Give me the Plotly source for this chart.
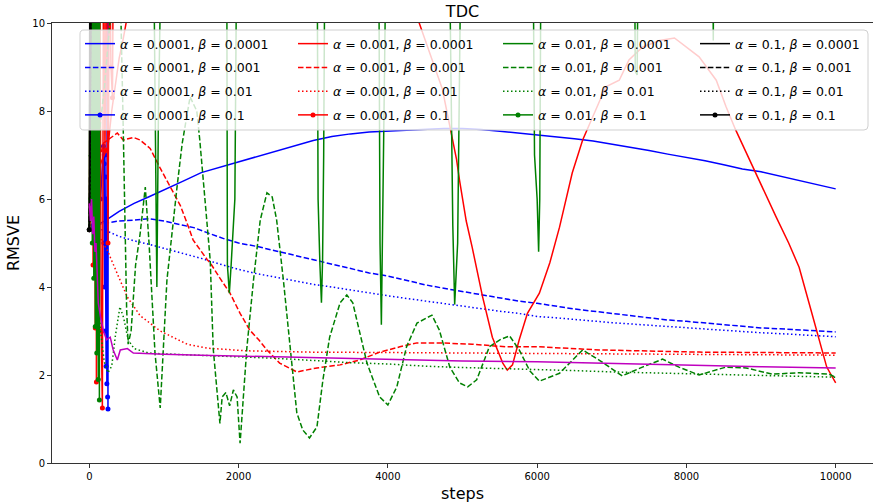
import plotly.graph_objects as go

# ---------------- data ----------------
alpha_labels = ["0.0001", "0.001", "0.01", "0.1"]
beta_labels = ["0.0001", "0.001", "0.01", "0.1"]

# alpha = 0.0001 (blue)
blue_b4_x = [0, 100, 200, 250, 400, 600, 800, 1000, 1250, 1500, 1750, 2000, 2250, 2500, 2750, 3000,
             3250, 3500, 3750, 4000, 4250, 4500, 4750, 5000, 5250, 5500, 5750, 6000, 6250, 6500,
             6750, 7000, 7250, 7500, 7750, 8000, 8250, 8500, 8750, 9000, 9250, 9500, 9750, 10000]
blue_b4_y = [5.3, 5.4, 5.5, 5.55, 5.72, 5.9, 6.05, 6.2, 6.4, 6.6, 6.72, 6.84, 6.97, 7.08, 7.2, 7.33,
             7.42, 7.48, 7.52, 7.54, 7.56, 7.58, 7.6, 7.6, 7.58, 7.54, 7.5, 7.45, 7.42, 7.37,
             7.32, 7.25, 7.18, 7.1, 7.02, 6.95, 6.87, 6.78, 6.68, 6.62, 6.52, 6.42, 6.33, 6.23]
blue_b3_x = [0, 100, 200, 400, 600, 800, 1000, 1200, 1400, 1600, 1800, 2000, 2250, 2500, 2750, 3000,
             3250, 3500, 3750, 4000, 4250, 4500, 4750, 5000, 5250, 5500, 5750, 6000, 6250, 6500,
             6750, 7000, 7250, 7500, 7750, 8000, 8250, 8500, 8750, 9000, 9250, 9500, 9750, 10000]
blue_b3_y = [5.3, 5.4, 5.45, 5.5, 5.52, 5.55, 5.5, 5.42, 5.35, 5.22, 5.1, 5.0, 4.92, 4.82, 4.72, 4.62,
             4.52, 4.42, 4.32, 4.25, 4.15, 4.05, 3.97, 3.9, 3.82, 3.75, 3.68, 3.63, 3.56, 3.5,
             3.45, 3.4, 3.35, 3.3, 3.25, 3.22, 3.18, 3.15, 3.1, 3.07, 3.05, 3.03, 3.0, 2.98]
blue_b2_x = [0, 100, 200, 400, 600, 800, 1000, 1250, 1500, 1750, 2000, 2250, 2500, 2750, 3000,
             3250, 3500, 3750, 4000, 4250, 4500, 4750, 5000, 5250, 5500, 5750, 6000, 6250, 6500,
             6750, 7000, 7250, 7500, 7750, 8000, 8250, 8500, 8750, 9000, 9250, 9500, 9750, 10000]
blue_b2_y = [5.3, 5.3, 5.3, 5.15, 5.05, 4.97, 4.88, 4.78, 4.65, 4.52, 4.4, 4.3, 4.22, 4.14, 4.06,
             4.0, 3.93, 3.86, 3.8, 3.74, 3.68, 3.62, 3.56, 3.5, 3.45, 3.4, 3.33, 3.3, 3.26,
             3.22, 3.19, 3.16, 3.13, 3.11, 3.08, 3.05, 3.02, 2.99, 2.96, 2.94, 2.92, 2.89, 2.87]
blue_b1_x = [0, 50, 100, 150, 190, 195, 200, 205, 210, 215, 220, 225, 230, 235, 240, 245, 250, 255]
blue_b1_y = [5.3, 5.4, 5.6, 6.0, 7.2, 5.0, 6.8, 4.0, 7.0, 3.0, 6.5, 2.2, 6.0, 1.8, 12.0, 1.5, 1.23, 14.0]

# alpha = 0.001 (red)
red_b4_x = [0, 50, 100, 150, 200, 250, 300, 350, 400, 450, 520, 600, 1000, 2000, 3000, 4000, 4300,
            4420, 4730, 4920, 4960, 5050, 5130, 5270, 5400, 5540, 5600, 5670, 5760, 5870, 6030,
            6170, 6300, 6470, 6610, 6740, 6920, 7100, 7230, 7410, 7640, 7840, 8000, 8170, 8400,
            8530, 8660, 8800, 8930, 9070, 9200, 9370, 9510, 9680, 9810, 9880, 10000]
red_b4_y = [5.3, 6.0, 6.5, 6.8, 7.0, 7.2, 8.0, 8.6, 9.2, 9.6, 10.2, 11.0, 13.0, 15.0, 15.0, 13.0, 10.5,
            10.0, 8.5, 6.9, 6.43, 5.5, 4.9, 3.77, 2.86, 2.27, 2.11, 2.23, 2.8, 3.4, 3.86,
            4.55, 5.36, 6.59, 7.34, 7.86, 8.55, 8.7, 9.16, 9.45, 9.6, 9.66, 9.45, 9.23, 8.7,
            8.1, 7.57, 7.05, 6.59, 6.05, 5.6, 5.0, 4.45, 3.41, 2.64, 2.18, 1.82]
red_b3_x = [0, 50, 100, 150, 190, 250, 300, 375, 455, 590, 680, 815, 950, 1080, 1220, 1310, 1390,
            1580, 1620, 1750, 1885, 2020, 2150, 2270, 2380, 2550, 2780, 3050, 3360, 3620, 3890,
            4160, 4390, 4690, 5130, 5590, 6030, 6830, 8170, 10000]
red_b3_y = [5.3, 6.2, 6.8, 7.0, 7.27, 7.35, 7.4, 7.5, 7.34, 7.4, 7.34, 7.15, 6.7, 6.28, 5.85, 5.45, 5.07,
            4.62, 4.55, 4.2, 3.86, 3.4, 3.02, 2.8, 2.57, 2.27, 2.07, 2.16, 2.23, 2.34, 2.52,
            2.64, 2.73, 2.73, 2.7, 2.64, 2.64, 2.57, 2.52, 2.5]
red_b2_x = [0, 100, 150, 240, 375, 510, 680, 950, 1310, 1580, 2110, 2950, 4000, 5000, 6030, 7000,
            8000, 9000, 10000]
red_b2_y = [5.3, 5.25, 5.1, 4.84, 4.3, 3.77, 3.35, 3.0, 2.7, 2.61, 2.55, 2.52, 2.51, 2.5, 2.5, 2.48,
            2.47, 2.46, 2.45]
red_b1_x = [0, 15, 30, 45, 50, 65, 80, 90, 95, 110, 125, 140, 160, 175, 190, 210, 230, 250, 270, 290, 310, 330]
red_b1_y = [5.3, 12.0, 7.0, 12.0, 4.5, 12.0, 3.07, 12.0, 1.84, 12.0, 6.5, 12.0, 3.0, 1.25, 12.0, 7.1,
            12.0, 5.0, 12.0, 9.0, 8.3, 14.0]

# alpha = 0.01 (green)
green_b4_x = [0, 20, 40, 60, 80, 100, 130, 300, 600, 855, 880, 905, 925, 975, 1300, 1840, 1850, 1876,
              1900, 1950, 1980, 2500, 3050, 3065, 3090, 3110, 3125, 3140, 3160, 3500, 3875, 3895,
              3913, 3930, 3985, 4400, 4815, 4870, 4895, 4935, 4987, 5500, 5940, 5965, 6000, 6020,
              6035, 6055, 6700, 7300, 7315, 7340, 7360, 7900, 8350, 8360, 8370, 9000, 10000]
green_b4_y = [5.3, 7.5, 6.0, 8.5, 7.0, 11.0, 14.0, 15.0, 15.0, 13.0, 7.8, 4.0, 7.8, 13.0, 15.0, 13.0, 4.5, 3.86,
              4.5, 6.0, 13.0, 15.0, 13.0, 6.0, 4.5, 3.64, 4.6, 7.0, 13.0, 15.0, 13.0, 5.0,
              3.14, 5.5, 13.0, 15.0, 13.0, 5.4, 3.6, 5.0, 13.0, 15.0, 13.0, 7.0, 6.0, 4.8,
              6.0, 13.0, 15.0, 13.0, 8.9, 8.82, 13.0, 15.0, 13.0, 9.6, 13.0, 15.0, 15.0]
green_b3_x = [0, 50, 100, 200, 300, 400, 450, 500, 520, 560, 620, 680, 750, 800, 880, 950, 1040, 1110,
              1175, 1245, 1350, 1440, 1480, 1550, 1620, 1660, 1710, 1750, 1780, 1830, 1880, 1930,
              1980, 2020, 2110, 2200, 2290, 2380, 2450, 2510, 2600, 2690, 2780, 2860, 2950, 3050,
              3130, 3220, 3360, 3450, 3530, 3720, 3890, 4000, 4120, 4250, 4390, 4590, 4690, 4830,
              4960, 5070, 5190, 5360, 5500, 5630, 5760, 5900, 6030, 6300, 6610, 6830, 7140, 7410,
              7680, 7900, 8170, 8530, 8800, 9150, 9510, 9910, 10000]
green_b3_y = [5.3, 6.5, 7.0, 8.5, 10.5, 12.0, 8.0, 3.5, 2.7, 3.0, 4.5, 5.2, 6.27, 5.0, 2.5, 1.25, 4.16, 5.3,
              6.27, 7.27, 8.32, 8.0, 7.34, 5.98, 4.6, 2.6, 1.73, 0.9, 1.5, 1.6, 1.3, 1.66,
              1.5, 0.45, 2.6, 4.16, 5.52, 6.14, 6.05, 5.52, 4.16, 2.64, 1.14, 0.75, 0.57, 0.82,
              1.89, 2.86, 3.64, 3.82, 3.64, 2.27, 1.5, 1.32, 1.73, 2.64, 3.18, 3.36, 3.02, 2.18,
              1.82, 1.73, 1.89, 2.64, 2.8, 2.89, 2.57, 2.1, 1.86, 2.04, 2.57, 2.34, 1.98, 2.18,
              2.36, 2.18, 2.0, 2.18, 2.16, 2.02, 2.05, 2.02, 1.95]
green_b2_x = [0, 30, 60, 100, 150, 200, 250, 300, 350, 410, 460, 520, 600, 800, 1000, 1500, 2000,
              2500, 3000, 3500, 4000, 4500, 5000, 5500, 6000, 6500, 7000, 7500, 8000, 8500, 9000,
              9500, 10000]
green_b2_y = [7.0, 6.5, 5.5, 4.0, 3.0, 2.3, 2.05, 2.2, 2.9, 3.55, 3.3, 2.8, 2.6, 2.5, 2.48, 2.45, 2.42,
              2.38, 2.33, 2.28, 2.25, 2.2, 2.17, 2.15, 2.12, 2.1, 2.07, 2.05, 2.03, 2.01, 2.0,
              1.97, 1.95]
green_b1_x = [0, 10, 20, 30, 40, 50, 60, 70, 80, 90, 100, 110, 120, 130, 135, 140]
green_b1_y = [5.3, 12.0, 6.0, 12.0, 5.0, 12.0, 4.2, 12.0, 3.1, 12.0, 2.5, 12.0, 1.9, 12.0, 1.43, 14.0]

# alpha = 0.1 (black)
black_b4_x = [0, 20, 40]
black_b4_y = [5.3, 9.0, 14.0]
black_b3_x = [0, 15, 30]
black_b3_y = [5.3, 7.5, 13.0]
black_b2_x = [0, 10, 25]
black_b2_y = [5.3, 6.5, 12.0]
black_b1_x = [0, 10, 20]
black_b1_y = [5.3, 12.0, 25.0]

# extra magenta curve (not in legend)
mag_x = [0, 15, 30, 45, 60, 75, 90, 105, 120, 150, 190, 230, 280, 320, 375, 415, 510, 590, 800, 1000,
         1500, 2000, 3000, 4000, 5000, 6000, 7000, 8000, 9000, 10000]
mag_y = [5.9, 5.5, 6.0, 5.2, 5.6, 4.8, 5.0, 4.0, 3.64, 3.32, 3.0, 2.8, 2.86, 2.57, 2.34, 2.57, 2.6, 2.5,
         2.48, 2.47, 2.45, 2.43, 2.4, 2.36, 2.32, 2.3, 2.26, 2.22, 2.19, 2.16]

# ---------------- styling ----------------
colors = ["#0000ff", "#ff0000", "#008000", "#000000"]
dashes = ["solid", "5.5px,2.4px", "1.5px,2.5px", "solid"]
series = [
    [(blue_b4_x, blue_b4_y), (blue_b3_x, blue_b3_y), (blue_b2_x, blue_b2_y), (blue_b1_x, blue_b1_y)],
    [(red_b4_x, red_b4_y), (red_b3_x, red_b3_y), (red_b2_x, red_b2_y), (red_b1_x, red_b1_y)],
    [(green_b4_x, green_b4_y), (green_b3_x, green_b3_y), (green_b2_x, green_b2_y), (green_b1_x, green_b1_y)],
    [(black_b4_x, black_b4_y), (black_b3_x, black_b3_y), (black_b2_x, black_b2_y), (black_b1_x, black_b1_y)],
]
legend_ids = ["legend", "legend2", "legend3", "legend4"]

FONT = "DejaVu Sans"
W, H = 873, 503
# plot area in page pixels: x 52..873, y 23..463
ML, MR, MT, MB = 52, 0, 23, 40
PW, PH = W - ML - MR, H - MT - MB


def px2paper(px, py):
    """page pixel -> paper coords"""
    return (px - ML) / PW, (H - MB - py) / PH


fig = go.Figure()
for ai in range(4):
    for bi in range(4):
        xs, ys = series[ai][bi]
        label = f"<i>α</i> = {alpha_labels[ai]}, <i>β</i> = {beta_labels[bi]}"
        with_marker = bi == 3
        fig.add_trace(go.Scatter(
            x=xs, y=ys, name=label,
            mode="lines+markers" if with_marker else "lines",
            line=dict(color=colors[ai], width=1.5, dash=dashes[bi]),
            marker=dict(size=5, color=colors[ai]) if with_marker else None,
            legend=legend_ids[ai], legendgroup=f"g{ai}{bi}",
        ))
fig.add_trace(go.Scatter(x=mag_x, y=mag_y, mode="lines", showlegend=False,
                         line=dict(color="#bf00bf", width=1.5)))

# legend frame (one box behind four legend columns), page pixels
bx0, by0, bx1, by1, r = 80, 30, 868, 130, 4


def P(px, py):
    x, y = px2paper(px, py)
    return f"{x:.5f},{y:.5f}"


path = (f"M {P(bx0 + r, by0)} L {P(bx1 - r, by0)} Q {P(bx1, by0)} {P(bx1, by0 + r)} "
        f"L {P(bx1, by1 - r)} Q {P(bx1, by1)} {P(bx1 - r, by1)} L {P(bx0 + r, by1)} "
        f"Q {P(bx0, by1)} {P(bx0, by1 - r)} L {P(bx0, by0 + r)} Q {P(bx0, by0)} {P(bx0 + r, by0)} Z")
fig.add_shape(type="path", path=path, xref="paper", yref="paper", layer="above",
              fillcolor="rgba(255,255,255,0.8)", line=dict(color="#d0d0d0", width=1))

col_px = [80, 293, 498, 695]
legend_cfg = {}
for i, lid in enumerate(legend_ids):
    lx, ly = px2paper(col_px[i], 29)
    legend_cfg[lid] = dict(x=lx, y=ly, xanchor="left", yanchor="top", bgcolor="rgba(0,0,0,0)",
                           borderwidth=0, font=dict(family=FONT, size=12.5, color="#000"),
                           tracegroupgap=4.5, itemwidth=30)

axis_common = dict(showline=True, linecolor="#333", linewidth=1, ticks="outside", ticklen=4,
                   tickcolor="#333", tickfont=dict(family=FONT, size=10, color="#000"),
                   showgrid=False, zeroline=False)
fig.update_layout(
    width=W, height=H, margin=dict(l=ML, r=MR, t=MT, b=MB, autoexpand=False),
    paper_bgcolor="white", plot_bgcolor="white",
    title=dict(text="TDC", x=0.5, xref="paper", xanchor="center", y=1 - 11 / H,
               yref="container", yanchor="middle",
               font=dict(family=FONT, size=16, color="#000")),
    xaxis=dict(range=[-500, 10500], tickvals=[0, 2000, 4000, 6000, 8000, 10000], tickformat="d",
               mirror=True,
               title=dict(text="steps", font=dict(family=FONT, size=16, color="#000"), standoff=6),
               **axis_common),
    yaxis=dict(range=[0, 10], tickvals=[0, 2, 4, 6, 8, 10],
               title=dict(text="RMSVE", font=dict(family=FONT, size=16, color="#000"), standoff=8),
               **axis_common),
    **legend_cfg,
)
fig.write_html("out.html", config={"displayModeBar": False},
               post_script="document.body.style.margin='0';document.body.style.overflow='hidden';")
